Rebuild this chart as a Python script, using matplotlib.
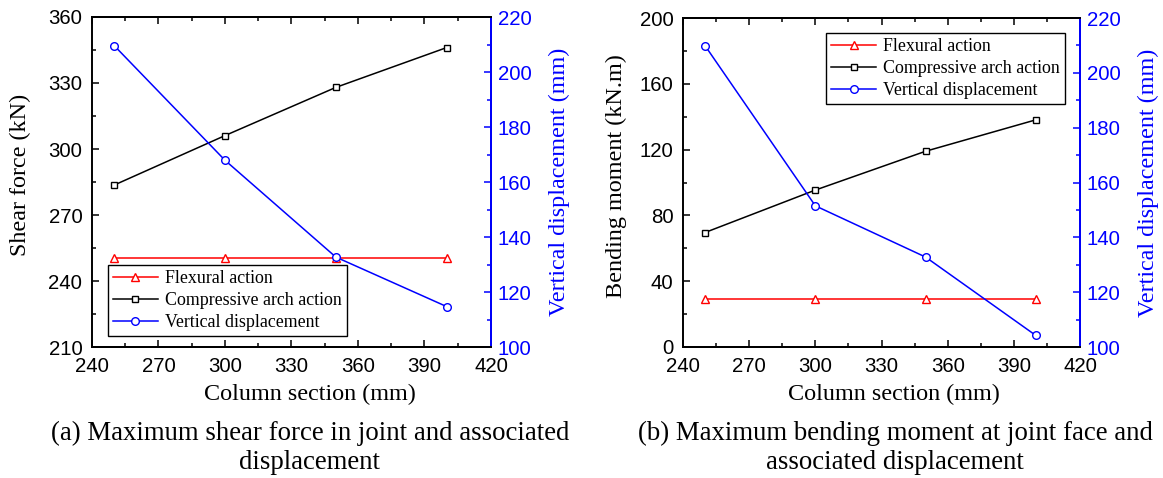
import matplotlib
matplotlib.use("Agg")
import matplotlib.pyplot as plt
from matplotlib.ticker import MultipleLocator

# column section (mm)
sections = [250, 300, 350, 400]

# (a) shear force in joint (kN) and vertical displacement (mm)
shear_flexural = [250.3, 250.3, 250.3, 250.3]
shear_arch = [283.6, 306.1, 328.0, 346.1]
disp_a = [209.6, 167.9, 132.7, 114.7]

# (b) bending moment at joint face (kN.m) and vertical displacement (mm)
moment_flexural = [29.1, 29.1, 29.1, 29.1]
moment_arch = [69.6, 95.4, 119.0, 138.1]
disp_b = [209.9, 151.5, 132.8, 104.2]

captions = ["(a) Maximum shear force in joint and associated\ndisplacement",
            "(b) Maximum bending moment at joint face and\nassociated displacement"]

SERIF = "Liberation Serif"
SANS = "Liberation Sans"
BLUE = "#0000ff"
RED = "#ff0000"

fig = plt.figure(figsize=(11.63, 4.78), dpi=100)
W, H = 1163.0, 478.0


def panel(rect, y1, y2, disp, ylim, ystep, ylabel, leg_kw, xlab_x, ylab_x):
    ax = fig.add_axes(rect)
    ax2 = ax.twinx()
    l1, = ax.plot(sections, y1, color=RED, lw=1.1, marker="^", ms=5.5,
                  mfc="white", mec=RED, mew=1.0, label="Flexural action")
    l2, = ax.plot(sections, y2, color="black", lw=1.1, marker="s", ms=4.5,
                  mfc="white", mec="black", mew=1.0,
                  label="Compressive arch action")
    l3, = ax2.plot(sections, disp, color=BLUE, lw=1.1, marker="o", ms=5.5,
                   mfc="white", mec=BLUE, mew=1.0, label="Vertical displacement")

    ax.set_xlim(240, 420)
    ax.set_ylim(*ylim)
    ax2.set_ylim(100, 220)
    ax.xaxis.set_major_locator(MultipleLocator(30))
    ax.xaxis.set_minor_locator(MultipleLocator(15))
    ax.yaxis.set_major_locator(MultipleLocator(ystep))
    ax.yaxis.set_minor_locator(MultipleLocator(ystep / 2))
    ax2.yaxis.set_major_locator(MultipleLocator(20))
    ax2.yaxis.set_minor_locator(MultipleLocator(10))

    ax.tick_params(which="both", direction="in", top=True, right=False,
                   labelsize=14.7, width=1.1)
    ax.tick_params(axis="x", pad=7.5)
    ax.tick_params(axis="y", pad=7)
    ax.tick_params(which="major", length=5)
    ax.tick_params(which="minor", length=3)
    ax2.tick_params(which="both", direction="in", colors=BLUE,
                    labelsize=14.7, width=1.1, pad=5)
    ax2.tick_params(which="major", length=5)
    ax2.tick_params(which="minor", length=3)
    for lab in ax.get_xticklabels() + ax.get_yticklabels() + ax2.get_yticklabels():
        lab.set_family(SANS)

    for sp in ax.spines.values():
        sp.set_linewidth(1.4)
    for sp in ax2.spines.values():
        sp.set_linewidth(1.4)
    ax2.spines["right"].set_color(BLUE)
    ax2.spines["left"].set_visible(False)

    ax.set_xlabel("Column section (mm)", family=SERIF, fontsize=17.4)
    ax.xaxis.set_label_coords(xlab_x, -0.112)
    ax.set_ylabel(ylabel, family=SERIF, fontsize=17.4)
    ax.yaxis.set_label_coords(ylab_x, 0.52)
    ax2.set_ylabel("Vertical displacement (mm)", family=SERIF, fontsize=17.4,
                   color=BLUE)
    ax2.yaxis.set_label_coords(1.145, 0.5)

    leg = ax2.legend(handles=[l1, l2, l3], prop={"family": SERIF, "size": 12.9},
                     fancybox=False, framealpha=1, edgecolor="black",
                     borderaxespad=0, handlelength=2.5, handletextpad=0.4,
                     labelspacing=0.28, borderpad=0.28, **leg_kw)
    leg.get_frame().set_linewidth(1.0)
    return ax


ax_a = panel([92 / W, 1 - 347 / H, 399 / W, 330 / H], shear_flexural, shear_arch,
             disp_a, (210, 360), 30, "Shear force (kN)",
             dict(loc="lower left", bbox_to_anchor=(0.04, 0.033)), 0.546, -0.152)
ax_b = panel([683 / W, 1 - 347 / H, 397 / W, 329 / H], moment_flexural, moment_arch,
             disp_b, (0, 200), 40, "Bending moment (kN.m)",
             dict(loc="upper right", bbox_to_anchor=(0.962, 0.954)), 0.53, -0.14)

fig.text(310 / W, 1 - 448 / H, captions[0], ha="center", va="center",
         family=SERIF, fontsize=19.3, linespacing=1.2)
fig.text(895 / W, 1 - 448 / H, captions[1], ha="center", va="center",
         family=SERIF, fontsize=19.3, linespacing=1.2)

fig.savefig("out.png", dpi=100)
